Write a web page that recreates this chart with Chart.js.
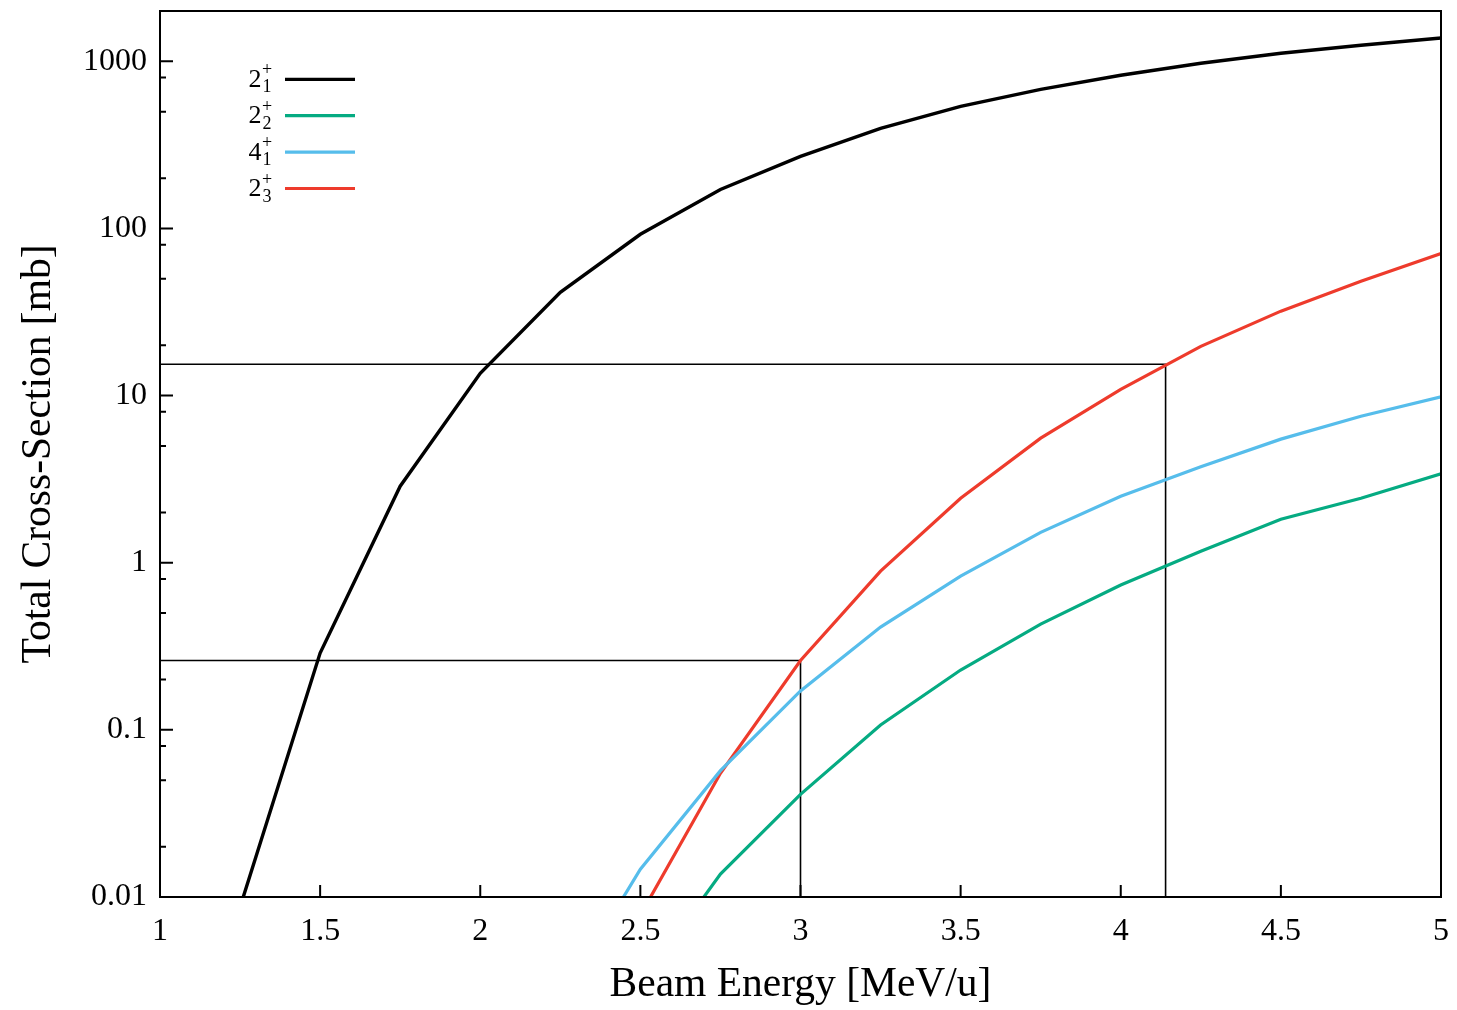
<!DOCTYPE html>
<html>
<head>
<meta charset="utf-8">
<script src="https://cdn.jsdelivr.net/npm/chart.js@4"></script>
<style>
html,body{margin:0;padding:0;background:#fff;}
#wrap{width:1457px;height:1010px;position:relative;}
</style>
</head>
<body>
<div id="wrap"><canvas id="c" width="1457" height="1010"></canvas></div>
<script>
// ---- data ----
const energy = [1.25, 1.5, 1.75, 2.0, 2.25, 2.5, 2.75, 3.0, 3.25, 3.5, 3.75, 4.0, 4.25, 4.5, 4.75, 5.0];
const s21 = [0.0087, 0.288, 2.87, 13.6, 41.5, 92.3, 171, 270, 397, 538, 680, 825, 973, 1117, 1247, 1378];
const s22 = [null, null, null, null, null, 0.003, 0.0137, 0.0411, 0.107, 0.228, 0.429, 0.735, 1.17, 1.82, 2.43, 3.40];
const s41 = [null, null, null, null, 0.0024, 0.01465, 0.057, 0.171, 0.412, 0.832, 1.52, 2.50, 3.75, 5.49, 7.53, 9.82];
const s23 = [null, null, null, null, null, 0.0078, 0.055, 0.26, 0.891, 2.43, 5.56, 10.9, 19.7, 32.0, 48.3, 70.8];

const ref1X = [1, 4.14, 4.14];
const ref1Y = [15.4, 15.4, 0.01];
const ref2X = [1, 3.0, 3.0];
const ref2Y = [0.26, 0.26, 0.01];

const legendMain = ['2', '2', '4', '2'];
const legendSub  = ['1', '2', '1', '3'];
const legendSup  = ['+', '+', '+', '+'];

const xTickValues = [1, 1.5, 2, 2.5, 3, 3.5, 4, 4.5, 5];
const xTickLabels = ['1', '1.5', '2', '2.5', '3', '3.5', '4', '4.5', '5'];
const yTickValues = [0.01, 0.1, 1, 10, 100, 1000];
const yTickLabels = ['0.01', '0.1', '1', '10', '100', '1000'];
const yMinorMultipliers = [2, 5, 8];

const colors = ['#000000', '#05AB82', '#56BDEB', '#EE3B2C'];
const FONT = "'Liberation Serif', 'Times New Roman', serif";

function pts(xs, ys) { return xs.map((x, i) => ({x: x, y: ys[i]})); }

const curveSets = [s21, s22, s41, s23];
const datasets = curveSets.map((s, i) => ({
  label: legendMain[i] + legendSub[i] + legendSup[i],
  data: pts(energy, s),
  borderColor: colors[i],
  borderWidth: i === 0 ? 3.4 : 3.2,
  pointRadius: 0,
  tension: 0,
  fill: false,
  clip: 0
}));
datasets.push({label: 'ref1', data: pts(ref1X, ref1Y), borderColor: '#000', borderWidth: 1.6, pointRadius: 0, tension: 0, fill: false, clip: 0});
datasets.push({label: 'ref2', data: pts(ref2X, ref2Y), borderColor: '#000', borderWidth: 1.6, pointRadius: 0, tension: 0, fill: false, clip: 0});

const framePlugin = {
  id: 'frameTicksLegend',
  afterDraw(chart) {
    const ctx = chart.ctx;
    const a = chart.chartArea;
    const xs = chart.scales.x, ys = chart.scales.y;
    ctx.save();
    ctx.strokeStyle = '#000';
    ctx.lineWidth = 2;
    ctx.strokeRect(a.left, a.top, a.right - a.left, a.bottom - a.top);
    ctx.beginPath();
    xTickValues.forEach(v => {
      const px = xs.getPixelForValue(v);
      ctx.moveTo(px, a.bottom); ctx.lineTo(px, a.bottom - 12);
    });
    yTickValues.forEach(v => {
      const py = ys.getPixelForValue(v);
      ctx.moveTo(a.left, py); ctx.lineTo(a.left + 13, py);
      yMinorMultipliers.forEach(m => {
        const mv = v * m;
        if (mv <= ys.max) {
          const pm = ys.getPixelForValue(mv);
          ctx.moveTo(a.left, pm); ctx.lineTo(a.left + 6, pm);
        }
      });
    });
    ctx.stroke();

    // legend
    const ds = chart.data.datasets;
    for (let i = 0; i < 4; i++) {
      const ly = 79.3 + i * 36.4;
      ctx.strokeStyle = ds[i].borderColor;
      ctx.lineWidth = 3.2;
      ctx.beginPath();
      ctx.moveTo(285, ly); ctx.lineTo(355, ly);
      ctx.stroke();
      ctx.fillStyle = '#000';
      ctx.textBaseline = 'alphabetic';
      ctx.textAlign = 'right';
      ctx.font = '26px ' + FONT;
      ctx.fillText(legendMain[i], 261.5, ly + 7.5);
      ctx.textAlign = 'left';
      ctx.font = '18px ' + FONT;
      ctx.fillText(legendSup[i], 262, ly - 4);
      ctx.fillText(legendSub[i], 262.5, ly + 13);
    }
    ctx.restore();
  }
};

new Chart(document.getElementById('c'), {
  type: 'line',
  data: {datasets: datasets},
  options: {
    responsive: false,
    animation: false,
    devicePixelRatio: 1,
    layout: {autoPadding: false, padding: {top: 11, right: 16, bottom: 0, left: 0}},
    plugins: {legend: {display: false}, tooltip: {enabled: false}},
    scales: {
      x: {
        type: 'linear', min: 1, max: 5,
        afterBuildTicks: ax => { ax.ticks = xTickValues.map(v => ({value: v})); },
        afterFit: s => { s.height = 113; s.paddingLeft = 0; s.paddingRight = 0; },
        ticks: {
          callback: (v, i) => xTickLabels[i],
          font: {family: FONT, size: 32}, color: '#000', padding: 15,
          maxRotation: 0, autoSkip: false
        },
        grid: {display: false, drawTicks: false, tickLength: 0},
        border: {display: false},
        title: {display: true, text: 'Beam Energy [MeV/u]', font: {family: FONT, size: 41.5}, color: '#000', padding: {top: 0, bottom: 0}}
      },
      y: {
        type: 'logarithmic', min: 0.01, max: 2000,
        afterBuildTicks: ax => { ax.ticks = yTickValues.map(v => ({value: v})); },
        afterFit: s => { s.width = 160; s.paddingTop = 0; s.paddingBottom = 0; },
        ticks: {
          callback: (v, i) => yTickLabels[i],
          font: {family: FONT, size: 32}, color: '#000', padding: 13,
          autoSkip: false
        },
        grid: {display: false, drawTicks: false, tickLength: 0},
        border: {display: false},
        title: {display: true, text: 'Total Cross-Section [mb]', font: {family: FONT, size: 41.5}, color: '#000', padding: {top: 14, bottom: 0}}
      }
    }
  },
  plugins: [framePlugin]
});
</script>
</body>
</html>
